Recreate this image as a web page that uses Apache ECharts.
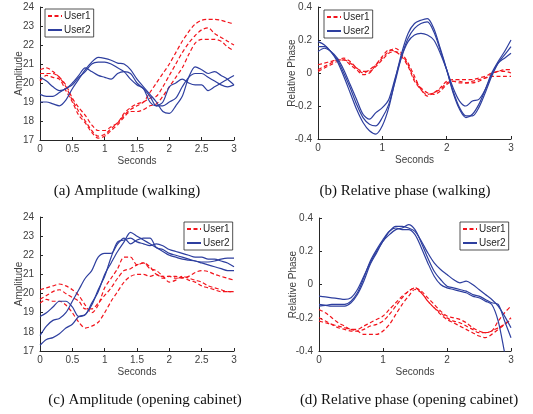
<!DOCTYPE html>
<html>
<head>
<meta charset="utf-8">
<script src="https://cdn.jsdelivr.net/npm/echarts@6/dist/echarts.min.js"></script>
<style>
html, body { margin: 0; background: #fff; }
#chart { width: 533px; height: 414px; }
</style>
</head>
<body>
<div id="chart"></div>
<script>
// sample times (s)
const secs = [0,0.1,0.2,0.3,0.4,0.5,0.6,0.7,0.8,0.9,1,1.1,1.2,1.3,1.4,1.5,1.6,1.7,1.8,1.9,2,
              2.1,2.2,2.3,2.4,2.5,2.6,2.7,2.8,2.9,3];

// (a) amplitude, walking
const ampWalkUser1 = [
  [20.7,20.8,20.6,20.3,19.8,19.1,18.5,18.0,17.5,17.2,17.3,17.6,17.9,18.3,18.6,18.8,19.0,19.5,20.0,20.5,21.0,21.6,22.2,22.7,23.1,23.3,23.35,23.35,23.3,23.2,23.1],
  [20.5,20.5,20.5,20.3,19.9,19.2,18.7,18.3,17.8,17.5,17.5,17.7,17.9,18.4,18.7,18.9,19.0,19.2,19.3,19.8,20.4,21.0,21.6,22.1,22.5,22.8,22.9,22.6,22.4,22.2,22.0],
  [20.1,20.4,20.3,20.2,19.6,19.0,18.3,17.9,17.4,17.1,17.2,17.5,17.8,18.2,18.5,18.5,18.6,18.8,18.9,19.3,19.8,20.3,20.8,21.5,22.1,22.3,22.3,22.3,22.2,21.9,21.7]
];
const ampWalkUser2 = [
  [20.3,20.1,19.8,19.6,19.7,20.0,20.4,20.8,20.6,20.4,20.3,20.2,20.5,20.6,20.5,20.0,19.7,19.3,18.8,19.0,19.8,20.0,20.2,20.0,19.9,19.9,19.6,19.8,20.0,20.2,20.4],
  [19.4,19.3,19.3,19.5,19.7,19.9,20.3,20.6,21.0,21.1,21.1,21.0,20.8,20.6,20.2,19.9,19.7,19.0,18.8,18.8,19.0,19.2,19.8,20.3,20.5,20.5,20.3,20.1,19.9,19.8,19.9],
  [19.0,19.0,18.9,18.8,19.1,19.7,20.2,20.7,21.1,21.35,21.3,21.2,21.05,21.0,20.7,20.2,19.8,19.4,19.0,18.5,18.4,18.8,19.3,20.3,20.85,20.7,20.5,20.6,20.4,20.2,19.9]
];

// (b) relative phase, walking
const phaseWalkUser1 = [
  [0.05,0.06,0.07,0.08,0.08,0.06,0.03,0.00,0.02,0.05,0.09,0.13,0.15,0.12,0.06,-0.02,-0.10,-0.13,-0.12,-0.09,-0.05,-0.04,-0.04,-0.04,-0.04,-0.03,-0.02,0.00,0.01,0.02,0.02],
  [0.02,0.04,0.06,0.08,0.09,0.07,0.03,0.01,0.01,0.04,0.08,0.12,0.13,0.11,0.05,-0.04,-0.09,-0.12,-0.13,-0.11,-0.07,-0.05,-0.05,-0.06,-0.06,-0.05,-0.03,-0.01,0.01,0.01,0.00],
  [0.01,0.03,0.05,0.07,0.08,0.05,0.02,-0.01,0.00,0.05,0.10,0.14,0.13,0.10,0.04,-0.05,-0.10,-0.14,-0.12,-0.10,-0.06,-0.05,-0.06,-0.06,-0.05,-0.04,-0.03,-0.02,-0.02,-0.02,-0.02]
];
const phaseWalkUser2 = [
  [0.19,0.17,0.13,0.07,-0.02,-0.12,-0.22,-0.30,-0.35,-0.37,-0.32,-0.21,-0.04,0.12,0.24,0.30,0.32,0.33,0.27,0.15,0.02,-0.12,-0.22,-0.27,-0.25,-0.19,-0.10,0.00,0.07,0.13,0.20],
  [0.16,0.16,0.13,0.08,0.00,-0.09,-0.19,-0.27,-0.31,-0.32,-0.27,-0.19,-0.05,0.10,0.21,0.27,0.30,0.31,0.25,0.14,0.02,-0.11,-0.21,-0.26,-0.26,-0.21,-0.12,-0.02,0.06,0.11,0.16],
  [0.13,0.15,0.13,0.09,0.02,-0.07,-0.16,-0.25,-0.28,-0.24,-0.21,-0.16,-0.03,0.10,0.19,0.23,0.24,0.23,0.20,0.12,0.02,-0.09,-0.17,-0.20,-0.17,-0.16,-0.10,-0.01,0.06,0.09,0.12]
];

// (c) amplitude, opening cabinet
const ampCabUser1 = [
  [20.2,20.3,20.4,20.5,20.4,20.2,19.9,19.4,19.0,19.4,20.3,20.8,21.3,21.9,21.9,21.5,21.6,21.4,21.0,20.9,20.9,20.9,20.8,20.9,21.1,21.2,21.15,21.0,20.9,20.8,20.7],
  [19.7,19.9,20.1,20.2,20.0,19.8,19.6,19.2,19.2,19.5,19.9,20.3,20.8,21.2,21.3,21.5,21.6,21.3,21.2,20.9,20.6,20.7,20.9,20.8,20.7,20.6,20.4,20.3,20.2,20.1,20.1],
  [19.5,19.7,19.6,19.6,19.4,19.0,18.5,18.2,18.3,18.5,19.0,19.6,20.1,20.6,20.9,21.0,21.0,20.9,21.0,20.8,20.9,20.8,20.85,20.7,20.6,20.4,20.3,20.2,20.1,20.1,20.1]
];
const ampCabUser2 = [
  [18.8,19.0,19.3,19.6,19.6,19.3,18.8,18.9,19.5,20.1,21.0,21.6,22.2,22.7,23.2,23.0,22.8,22.6,22.4,22.2,22.0,21.9,21.8,21.75,21.7,21.6,21.5,21.4,21.3,21.2,21.2],
  [17.8,18.3,18.6,18.7,19.0,19.6,20.2,20.8,21.2,21.9,22.1,22.1,22.6,22.9,22.6,22.8,22.9,22.9,22.4,22.3,22.1,22.0,21.9,21.8,21.7,21.65,21.65,21.7,21.8,21.85,21.85],
  [17.3,17.6,17.7,17.9,18.2,18.4,18.8,18.9,19.4,20.2,20.9,21.9,22.7,22.8,22.9,22.7,22.6,22.5,22.6,22.5,22.3,22.2,22.1,22.0,21.9,21.9,21.8,21.8,21.7,21.6,21.4]
];

// (d) relative phase, opening cabinet
const phaseCabUser1 = [
  [-0.15,-0.17,-0.20,-0.23,-0.25,-0.27,-0.27,-0.25,-0.23,-0.21,-0.19,-0.15,-0.11,-0.07,-0.04,-0.02,-0.04,-0.08,-0.12,-0.16,-0.19,-0.20,-0.21,-0.23,-0.26,-0.28,-0.29,-0.28,-0.22,-0.17,-0.13],
  [-0.20,-0.22,-0.24,-0.26,-0.27,-0.28,-0.28,-0.27,-0.25,-0.24,-0.22,-0.18,-0.13,-0.08,-0.04,-0.02,-0.05,-0.10,-0.14,-0.18,-0.21,-0.23,-0.25,-0.27,-0.29,-0.31,-0.32,-0.30,-0.27,-0.24,-0.20],
  [-0.22,-0.23,-0.24,-0.25,-0.26,-0.27,-0.28,-0.30,-0.30,-0.30,-0.28,-0.24,-0.18,-0.12,-0.07,-0.03,-0.05,-0.10,-0.14,-0.17,-0.20,-0.22,-0.23,-0.25,-0.27,-0.29,-0.29,-0.28,-0.26,-0.24,-0.21]
];
const phaseCabUser2 = [
  [-0.07,-0.075,-0.08,-0.085,-0.09,-0.08,-0.03,0.05,0.13,0.20,0.26,0.32,0.35,0.35,0.34,0.32,0.26,0.19,0.13,0.09,0.06,0.03,0.01,0.02,0.00,-0.03,-0.06,-0.09,-0.13,-0.19,-0.26],
  [-0.12,-0.125,-0.13,-0.13,-0.13,-0.11,-0.06,0.02,0.12,0.19,0.26,0.30,0.33,0.34,0.36,0.33,0.25,0.16,0.08,0.03,-0.01,-0.02,-0.03,-0.04,-0.06,-0.07,-0.09,-0.11,-0.12,-0.22,-0.32],
  [-0.13,-0.125,-0.12,-0.12,-0.12,-0.10,-0.05,0.04,0.14,0.21,0.27,0.32,0.34,0.33,0.33,0.30,0.22,0.13,0.05,0.00,-0.02,-0.03,-0.04,-0.05,-0.07,-0.08,-0.10,-0.12,-0.22,-0.41,-0.6]
];

const ampTicks = { min: 17, max: 24, interval: 1 };
const phaseTicks = { min: -0.4, max: 0.4, interval: 0.2 };

const captions = ['(a) Amplitude (walking)', '(b) Relative phase (walking)',
                  '(c) Amplitude (opening cabinet)', '(d) Relative phase (opening cabinet)'];

const RED = '#f2141c';
const BLUE = '#2e3f9f';
const AXIS = '#262626';
const FONT = 'Liberation Sans, Arial, sans-serif';

// panel layouts
const panels = [
  { grid: { left: 40, top: 7, width: 194, height: 133 }, ticks: ampTicks, xInt: 0.5, name: 'Amplitude', gap: 16,
    u1: ampWalkUser1, u2: ampWalkUser2, legend: { left: 45, top: 9 }, cap: [127, 191] },
  { grid: { left: 318, top: 7, width: 193, height: 132 }, ticks: phaseTicks, xInt: 1, name: 'Relative Phase', gap: 21,
    u1: phaseWalkUser1, u2: phaseWalkUser2, legend: { left: 324, top: 10 }, cap: [405, 191] },
  { grid: { left: 40, top: 217, width: 194, height: 134 }, ticks: ampTicks, xInt: 0.5, name: 'Amplitude', gap: 16,
    u1: ampCabUser1, u2: ampCabUser2, legend: { left: 184, top: 222 }, cap: [145, 400] },
  { grid: { left: 319, top: 218, width: 192, height: 133 }, ticks: phaseTicks, xInt: 1, name: 'Relative Phase', gap: 21,
    u1: phaseCabUser1, u2: phaseCabUser2, legend: { left: 460, top: 222 }, cap: [409, 400] }
];

const tickLabel = { color: '#404040', fontSize: 10, fontFamily: FONT };

function pairs(vals) {
  return vals.map((v, i) => [secs[i], v]);
}

let grids = [], xAxes = [], yAxes = [], series = [], legends = [], texts = [];
panels.forEach((p, gi) => {
  grids.push(p.grid);
  xAxes.push({
    type: 'value', gridIndex: gi, min: 0, max: 3, interval: p.xInt,
    name: 'Seconds', nameLocation: 'middle', nameGap: 16, nameMoveOverlap: false,
    nameTextStyle: { color: '#404040', fontSize: 10, fontFamily: FONT },
    axisLine: { onZero: false, lineStyle: { color: AXIS, width: 1 } },
    axisTick: { inside: true, length: 3, lineStyle: { color: AXIS } },
    axisLabel: Object.assign({ margin: 4 }, tickLabel),
    splitLine: { show: false }
  });
  yAxes.push({
    type: 'value', gridIndex: gi, min: p.ticks.min, max: p.ticks.max, interval: p.ticks.interval,
    name: p.name, nameLocation: 'middle', nameGap: p.gap, nameMoveOverlap: false,
    nameTextStyle: { color: '#404040', fontSize: 10, fontFamily: FONT },
    axisLine: { show: true, onZero: false, lineStyle: { color: AXIS, width: 1 } },
    axisTick: { show: true, inside: true, length: 3, lineStyle: { color: AXIS } },
    axisLabel: Object.assign({ margin: 6 }, tickLabel),
    splitLine: { show: false }
  });
  p.u1.forEach(vals => series.push({
    name: 'User1', type: 'line', xAxisIndex: gi, yAxisIndex: gi, data: pairs(vals),
    symbol: 'none', smooth: 0.3, color: RED,
    lineStyle: { color: RED, width: 1.2, type: [4, 2.5] }, z: 2
  }));
  p.u2.forEach(vals => series.push({
    name: 'User2', type: 'line', xAxisIndex: gi, yAxisIndex: gi, data: pairs(vals),
    symbol: 'none', smooth: 0.3, color: BLUE,
    lineStyle: { color: BLUE, width: 1.2 }, z: 3
  }));
  legends.push({
    data: ['User1', 'User2'], orient: 'vertical', left: p.legend.left, top: p.legend.top,
    backgroundColor: '#fff', borderColor: AXIS, borderWidth: 0.8, padding: [2, 3, 2, 2],
    itemWidth: 14, itemHeight: 6, itemGap: 4,
    itemStyle: { opacity: 0 },
    textStyle: { color: '#262626', fontSize: 10, fontFamily: FONT, padding: [0, 0, 0, -3] }
  });
  texts.push({
    type: 'text', x: p.cap[0], y: p.cap[1],
    style: { text: captions[gi], fill: '#111', font: '15px "Liberation Serif", serif',
             textAlign: 'center', textVerticalAlign: 'middle' }
  });
});

const chart = echarts.init(document.getElementById('chart'));
chart.setOption({
  animation: false,
  backgroundColor: '#fff',
  grid: grids,
  xAxis: xAxes,
  yAxis: yAxes,
  legend: legends,
  series: series,
  graphic: texts
});
</script>
</body>
</html>
